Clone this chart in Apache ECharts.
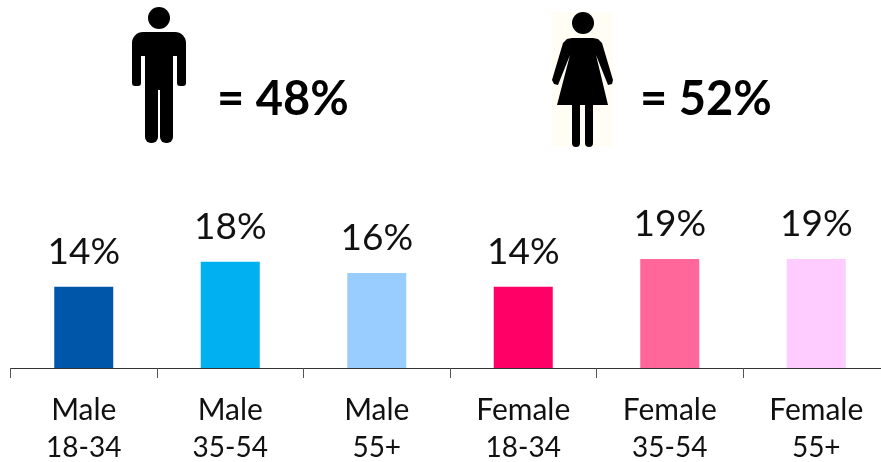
<!DOCTYPE html>
<html><head><meta charset="utf-8">
<style>html,body{margin:0;padding:0;background:#fff}#c{width:881px;height:462px}</style>
<script src="https://cdn.jsdelivr.net/npm/echarts@6/dist/echarts.min.js"></script>
</head><body><div id="c"></div>
<script>
const categories = ['Male\n18-34','Male\n35-54','Male\n55+','Female\n18-34','Female\n35-54','Female\n55+'];
const values = [14.0,18.3,16.4,14.0,18.8,18.8];
const colors = ['#0056A8','#00B0F0','#99CCFF','#FF0066','#FF6699','#FFCCFF'];
const maleShare = '= 48%';
const femaleShare = '= 52%';
const font = 'Lato, "Open Sans", sans-serif';
const black = {fill:'#000'};
const man = [
  {type:'circle',shape:{cx:159,cy:18,r:11},style:black},
  {type:'rect',shape:{x:132,y:32,width:54,height:24,r:[11,11,0,0]},style:black},
  {type:'rect',shape:{x:132,y:45,width:9,height:41,r:3},style:black},
  {type:'rect',shape:{x:177,y:45,width:9,height:41,r:3},style:black},
  {type:'rect',shape:{x:145,y:45,width:28,height:45},style:black},
  {type:'rect',shape:{x:145,y:80,width:13,height:63,r:[0,0,6,6]},style:black},
  {type:'rect',shape:{x:160,y:80,width:13,height:63,r:[0,0,6,6]},style:black}
];
const woman = [
  {type:'rect',shape:{x:552,y:12,width:61,height:135},style:{fill:'#FFFDF4'}},
  {type:'circle',shape:{cx:583,cy:23,r:11},style:black},
  {type:'polygon',shape:{points:[[572,38],[593,38],[598,39],[602,43],[613,80],[612,84],[608,85],[596,55],[608,105],[557,105],[570,55],[558,85],[554,84],[552,80],[563,43],[567,39]]},style:black},
  {type:'rect',shape:{x:572,y:100,width:8,height:47,r:[0,0,4,4]},style:black},
  {type:'rect',shape:{x:585,y:100,width:8,height:47,r:[0,0,4,4]},style:black}
];
const share = (x,t)=>({type:'text',x,y:100,style:{text:t,font:'bold 47px '+font,fill:'#000',textVerticalAlign:'middle'}});
const chart = echarts.init(document.getElementById('c'),null,{renderer:'canvas'});
chart.setOption({
  animation:false,
  grid:{left:10.5,top:194,width:879,height:174,outerBoundsMode:'none',containLabel:false},
  xAxis:{type:'category',data:categories,
    axisLine:{lineStyle:{color:'#333',width:1}},
    axisTick:{show:true,length:10,alignWithLabel:false,lineStyle:{color:'#555',width:1}},
    axisLabel:{interval:0,color:'#111',fontFamily:font,margin:24,
      formatter:v=>{const [a,b]=v.split('\n');return '{a|'+a+'}\n{b|'+b+'}';},
      rich:{a:{fontFamily:font,fontSize:30,lineHeight:37,color:'#111'},b:{fontFamily:font,fontSize:28,lineHeight:37,color:'#111'}}}},
  yAxis:{type:'value',min:0,max:30,show:false,splitLine:{show:false}},
  series:[{type:'bar',barWidth:59,
    data:values.map((v,i)=>({value:v,itemStyle:{color:colors[i]}})),
    label:{show:true,position:'top',distance:16,color:'#111',fontFamily:font,fontSize:37,
      formatter:p=>Math.round(p.value)+'%'}}],
  graphic:{elements:[...man,...woman,share(217,maleShare),share(640,femaleShare)]}
});
</script></body></html>
